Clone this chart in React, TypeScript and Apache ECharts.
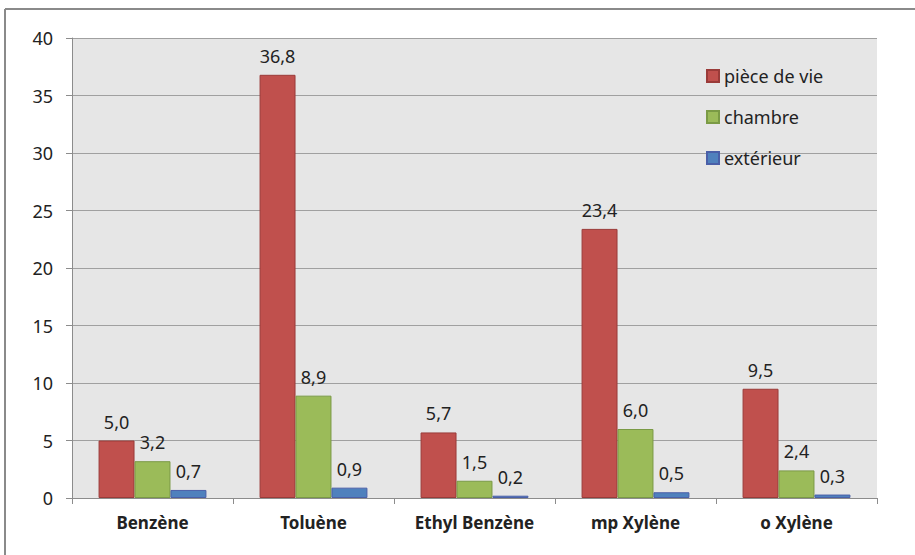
import React, { useEffect, useRef } from "react";
import * as echarts from "echarts";

const categories = ["Benzène", "Toluène", "Ethyl Benzène", "mp Xylène", "o Xylène"];
const seriesNames = ["pièce de vie", "chambre", "extérieur"];
const pieceDeVie = [5.0, 36.8, 5.7, 23.4, 9.5];
const chambre = [3.2, 8.9, 1.5, 6.0, 2.4];
const exterieur = [0.7, 0.9, 0.2, 0.5, 0.3];
const yTicks = [0, 5, 10, 15, 20, 25, 30, 35, 40];

const colors = ["#c0504d", "#9bbb59", "#4f81bd"];
const borders = ["#9a3b39", "#7a9a45", "#4a5fa8"];

export default function App() {
  const ref = useRef<HTMLDivElement>(null);
  useEffect(() => {
    if (!ref.current) return;
    const chart = echarts.init(ref.current, null, { renderer: "svg" });
    const font = "'Noto Sans', 'Open Sans', sans-serif";
    const mk = (name: string, data: number[], i: number) => ({
      name,
      type: "bar",
      data,
      barGap: "0%",
      barCategoryGap: "33%",
      itemStyle: { color: colors[i], borderColor: borders[i], borderWidth: 1 },
      label: {
        show: true,
        position: "top",
        distance: 10,
        color: "#222",
        fontSize: 18,
        fontFamily: font,
        formatter: (p: any) => Number(p.value).toFixed(1).replace(".", ","),
      },
    });
    chart.setOption({
      animation: false,
      backgroundColor: "#ffffff",
      textStyle: { fontFamily: font },
      grid: {
        left: 72,
        right: 38,
        top: 38,
        bottom: 57,
        show: true,
        backgroundColor: "#e6e6e6",
        borderWidth: 0,
      },
      legend: {
        orient: "vertical",
        left: 701,
        top: 62,
        itemGap: 23,
        itemWidth: 12,
        itemHeight: 12,
        icon: "rect",
        textStyle: { fontSize: 18, color: "#222", fontFamily: font },
        data: seriesNames,
      },
      xAxis: {
        type: "category",
        data: categories,
        axisLine: { lineStyle: { color: "#8c8c8c", width: 1 } },
        axisTick: { show: true, length: 6, lineStyle: { color: "#8c8c8c" } },
        axisLabel: {
          margin: 16,
          fontSize: 17,
          fontWeight: "bold",
          color: "#222",
          fontFamily: font,
        },
      },
      yAxis: {
        type: "value",
        min: yTicks[0],
        max: yTicks[yTicks.length - 1],
        interval: 5,
        axisLine: { show: true, lineStyle: { color: "#8c8c8c" } },
        axisTick: { show: true, length: 6, lineStyle: { color: "#8c8c8c" } },
        axisLabel: { margin: 19, fontSize: 18, color: "#222", fontFamily: font },
        splitLine: { show: true, lineStyle: { color: "#a0a0a0", width: 1 } },
      },
      graphic: [
        { type: "line", shape: { x1: 5, y1: 9, x2: 915, y2: 9 }, style: { stroke: "#8a8a8a", lineWidth: 2 } },
        { type: "line", shape: { x1: 5, y1: 9, x2: 5, y2: 555 }, style: { stroke: "#8a8a8a", lineWidth: 2 } },
      ],
      series: [mk(seriesNames[0], pieceDeVie, 0), mk(seriesNames[1], chambre, 1), mk(seriesNames[2], exterieur, 2)],
    });
    return () => chart.dispose();
  }, []);
  return <div ref={ref} style={{ position: "fixed", left: 0, top: 0, width: 915, height: 555 }} />;
}
